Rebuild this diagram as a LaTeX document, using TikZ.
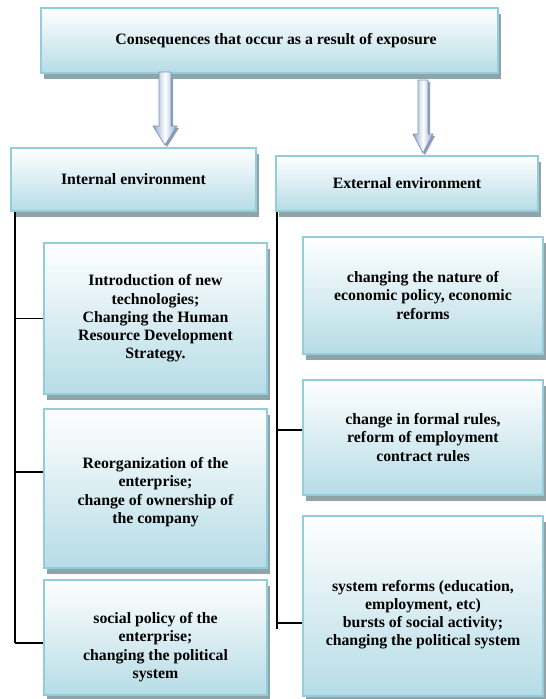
\documentclass[tikz,border=0pt]{standalone}
\usepackage{fontspec}
\setmainfont{Liberation Serif}
\usetikzlibrary{shadows}
\definecolor{boxborder}{HTML}{92CDDC}
\definecolor{boxbot}{HTML}{B6DCE6}
\definecolor{shadowgray}{HTML}{8FA3A8}
\definecolor{arrowdark}{HTML}{8EA6CC}
\definecolor{arrowedge}{HTML}{7C94BE}
\definecolor{arrowshadow}{HTML}{8D9DB3}
\tikzset{
  box/.style={draw=boxborder, line width=2pt, top color=white, bottom color=boxbot,
    drop shadow={shadow xshift=3pt, shadow yshift=-6pt, fill=shadowgray, opacity=1},
    anchor=north west, align=center, inner sep=0pt,
    font=\fontsize{15.8}{18.2}\selectfont\bfseries},
  link/.style={draw=black, line width=1.6pt},
  arrowbody/.style={draw=arrowedge, line width=0.8pt, left color=arrowdark, right color=arrowdark, middle color=white, shading angle=90},
  arrowshade/.style={fill=arrowshadow}
}
\begin{document}
\begin{tikzpicture}[x=1pt,y=-1pt]
\useasboundingbox (0,0) rectangle (546,699);
% boxes
\node[box, minimum width=457, minimum height=65] (top) at (40,7) {\hspace*{13pt}Consequences that occur as a result of exposure};
\node[box, minimum width=245, minimum height=63] (int) at (10,147) {Internal environment};
\node[box, minimum width=262, minimum height=55] (ext) at (275,155) {External environment};
\node[box, minimum width=223, minimum height=151] (l1) at (43,242) {Introduction of new\\technologies;\\Changing the Human\\Resource Development\\Strategy.};
\node[box, minimum width=223, minimum height=159] (l2) at (43,408) {\\[0pt]Reorganization of the\\enterprise;\\change of ownership of\\the company};
\node[box, minimum width=223, minimum height=115] (l3) at (43,579) {\\[12pt]social policy of the\\enterprise;\\changing the political\\system};
\node[box, minimum width=240, minimum height=117] (r1) at (302,236) {changing the nature of\\economic policy, economic\\reforms};
\node[box, minimum width=240, minimum height=115] (r2) at (302,379) {change in formal rules,\\reform of employment\\contract rules};
\node[box, minimum width=240, minimum height=180] (r3) at (302,515) {\\[10pt]system reforms (education,\\employment, etc)\\bursts of social activity;\\changing the political system};
% block arrows
\path[arrowshade] (161,74) -- (173,74) -- (173,128) -- (179,128) -- (167,147) -- (155,128) -- (161,128) -- cycle;
\path[arrowbody] (159,72) -- (171,72) -- (171,126) -- (177,126) -- (165,145) -- (153,126) -- (159,126) -- cycle;
\path[arrowshade] (420,82) -- (430,82) -- (430,136) -- (435,136) -- (425,155) -- (415,136) -- (420,136) -- cycle;
\path[arrowbody] (418,80) -- (428,80) -- (428,134) -- (433,134) -- (423,153) -- (413,134) -- (418,134) -- cycle;
% connectors left
\coordinate (lt) at ([xshift=5pt]int.south west);
\coordinate (lb) at ([yshift=-64pt]l3.north west -| lt);
\draw[link] (lt) -- (lb);
\draw[link] (l1.west -| lt) -- (l1.west);
\draw[link] ([yshift=-64pt]l2.north west -| lt) -- ([yshift=-64pt]l2.north west);
\draw[link] (lb) -- ([yshift=-64pt]l3.north west);
% connectors right
\coordinate (rt) at ([xshift=2pt]ext.south west);
\coordinate (rb) at ([yshift=-114pt]r3.north west -| rt);
\draw[link] (rt) -- (rb);
\draw[link] ([yshift=-51pt]r2.north west -| rt) -- ([yshift=-51pt]r2.north west);
\draw[link] ([yshift=-108pt]r3.north west -| rt) -- ([yshift=-108pt]r3.north west);
\end{tikzpicture}
\end{document}
